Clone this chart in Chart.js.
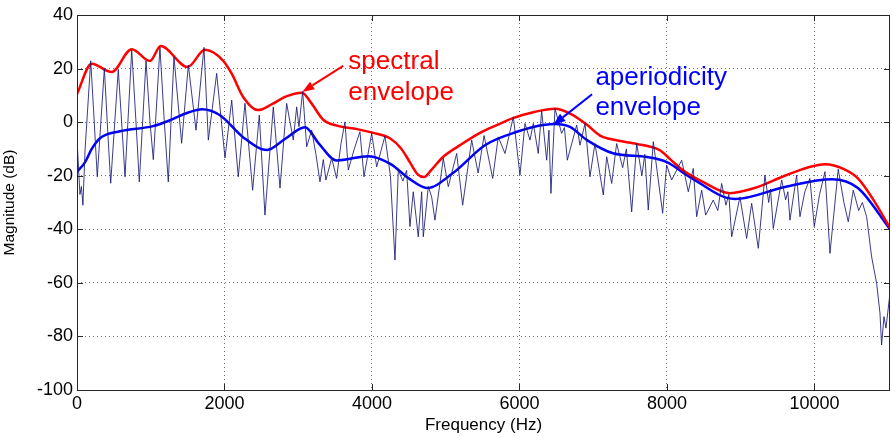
<!DOCTYPE html>
<html>
<head>
<meta charset="utf-8">
<script src="https://cdn.jsdelivr.net/npm/chart.js@4.4.1/dist/chart.umd.min.js"></script>
<style>
  html, body { margin: 0; padding: 0; background: #ffffff; }
  #wrap { width: 892px; height: 437px; }
</style>
</head>
<body>
<div id="wrap"><canvas id="c" width="892" height="437"></canvas></div>
<script>
// Harmonic magnitude spectrum (Hz, dB)
const specHz = [0, 40, 60, 80, 110, 186, 230, 275, 371, 420, 457, 560, 610, 651, 742, 800, 845, 936, 990, 1035,
  1125, 1180, 1238, 1315, 1419, 1510, 1614, 1722, 1781, 1894, 2007, 2098, 2187, 2278, 2382, 2472, 2549, 2662, 2753, 2843,
  2933, 2979, 3010, 3060, 3115, 3182, 3240, 3295, 3340, 3376, 3454, 3520, 3580, 3634, 3679, 3760, 3837, 3892, 3996, 4064,
  4176, 4250, 4312, 4357, 4420, 4470, 4515, 4560, 4628, 4674, 4696, 4764, 4810, 4854, 4967, 5035, 5149, 5230, 5352, 5440,
  5520, 5637, 5713, 5804, 5917, 6007, 6075, 6143, 6188, 6255, 6301, 6369, 6400, 6427, 6482, 6572, 6610, 6649, 6776, 6821,
  6889, 6956, 7024, 7137, 7183, 7251, 7318, 7400, 7450, 7522, 7590, 7660, 7700, 7747, 7815, 7942, 7996, 8064, 8200, 8290,
  8357, 8403, 8471, 8525, 8628, 8690, 8742, 8800, 8840, 8878, 8990, 9081, 9149, 9239, 9329, 9380, 9405, 9442, 9556, 9610,
  9640, 9668, 9759, 9804, 9870, 9939, 9998, 10070, 10143, 10211, 10323, 10400, 10459, 10527, 10600, 10650, 10708, 10776, 10844, 10889,
  10911, 10943, 10970, 11025];
const specDb = [-6.5, -27, -24, -31, -10, 22.9, 2, -20.4, 20, -5, -22.8, 19.7, -2, -20.4, 26.9, 0, -22.3, 22.9, 0, -14,
  27.9, 2, -22.3, 24.4, -7.9, 21.3, -3, 27.9, -6.7, 18.2, -13.4, 8.2, -20.4, 7, -25.4, 2.6, -34.7, 5.7, -24.6, 7,
  -6.7, 5.7, -1.7, 11.5, -9.2, -3, -12, -22.3, -14, -21.6, -13.4, -21, -8, 0.1, -17.9, -10, -3.6, -20.4, -4.2, -16.7,
  -5.2, -20, -51.5, -17.9, -22, -18, -39, -26, -42.8, -26, -42.8, -24, -28, -36.6, -13.5, -24.1, -11.7, -31, -6.7, -19,
  -5, -21, -5.5, -11.7, 2, -19.8, -0.5, -6.7, -0.5, -11.7, 4.2, -14.2, -3, -26.6, 5.1, -4.2, -2, -14.2, -1.1, -8.6,
  -0.5, -20.4, -8, -27.2, -12.9, -22.9, -8, -17, -10, -33.5, -8, -20, -12, -32.8, -7.3, -34, -16, -21.6, -14.2, -26,
  -17.3, -35.3, -25.4, -34.7, -29.1, -33, -22.9, -31, -27, -42.8, -27.9, -43.4, -30.3, -47.1, -19.8, -30, -25, -39.7, -21.6, -29,
  -26, -36.6, -19.8, -35.3, -26, -21, -39, -27, -18.5, -49, -17.6, -30, -37.2, -25.4, -33, -30, -35.3, -50.3, -60.2, -71.3,
  -83.2, -72.6, -76.9, -63.8];

// Spectral envelope (Hz, dB)
const envHz = [0, 199, 470, 742, 990, 1135, 1500, 1736, 1980, 2100, 2251, 2454, 2650, 2820, 3050, 3180, 3336, 3550, 3797, 4020,
  4244, 4400, 4515, 4620, 4705, 4800, 4963, 5200, 5465, 5700, 5912, 6200, 6482, 6700, 6916, 7092, 7300, 7539, 7750, 7905,
  8050, 8217, 8500, 8855, 9200, 9600, 9900, 10143, 10400, 10590, 10800, 11025];
const envDb = [10.5, 21.8, 18.7, 27.2, 22.8, 28.4, 20.6, 27, 23, 18, 9.5, 4.5, 6.8, 9.4, 11, 7, 1, -1.5, -2.6, -4,
  -6, -10, -15, -19.5, -20.5, -18, -13, -8.5, -4, -1, 1.5, 3.8, 5, 3, -1, -5, -6.7, -7.9, -9, -10.5,
  -14, -18, -22.5, -26.5, -24.5, -20, -17, -15.7, -17.5, -21, -29, -39.5];

// Aperiodicity envelope (Hz, dB)
const aperHz = [0, 108, 200, 312, 583, 1031, 1261, 1500, 1695, 1939, 2251, 2576, 2820, 3092, 3280, 3520, 3950, 4244, 4500, 4746,
  5099, 5532, 5912, 6482, 6685, 6916, 7268, 7729, 8000, 8312, 8922, 9600, 10238, 10590, 11025];
const aperDb = [-18.5, -15, -10, -6, -3.4, -1.5, 0.7, 3.5, 4.8, 2.6, -5.6, -10.4, -6.3, -1.9, -8, -14.3, -12.7, -15.5, -21, -24.6,
  -19, -8.6, -4.1, -0.7, -1.8, -6.7, -11.6, -13, -14.9, -20.5, -28.7, -24.2, -21.3, -24.6, -40];

// Axis ticks
const xTicks = [0, 2000, 4000, 6000, 8000, 10000];
const yTicks = [-100, -80, -60, -40, -20, 0, 20, 40];

// Callouts: text anchor and arrow in data units
const callouts = [
  { lines: ['spectral', 'envelope'], color: '#ff0000', textHz: 3680, textDb: 19.8, gapDb: 11.6,
    tailHz: 3610, tailDb: 21, tipHz: 3055, tipDb: 11.3 },
  { lines: ['aperiodicity', 'envelope'], color: '#0000ff', textHz: 7030, textDb: 13.8, gapDb: 11.2,
    tailHz: 6985, tailDb: 10.4, tipHz: 6460, tipDb: -1.0 }
];

const FONT = "'Liberation Sans', Arial, Helvetica, sans-serif";

const toXY = (xs, ys) => xs.map((x, i) => ({ x: x, y: ys[i] }));

const framePlugin = {
  id: 'frame',
  afterDraw(chart) {
    const ctx = chart.ctx;
    const a = chart.chartArea;
    const sx = chart.scales.x, sy = chart.scales.y;
    ctx.save();
    // axes box
    ctx.strokeStyle = '#262626';
    ctx.lineWidth = 1;
    ctx.setLineDash([]);
    ctx.strokeRect(Math.round(a.left) + 0.5, Math.round(a.top) + 0.5,
                   Math.round(a.right - a.left) - 1, Math.round(a.bottom - a.top));
    // inward ticks on all four sides
    const tl = 6;
    ctx.beginPath();
    xTicks.forEach(v => {
      const px = Math.round(sx.getPixelForValue(v)) + 0.5;
      ctx.moveTo(px, a.bottom); ctx.lineTo(px, a.bottom - tl);
      ctx.moveTo(px, a.top); ctx.lineTo(px, a.top + tl);
    });
    yTicks.forEach(v => {
      const py = Math.round(sy.getPixelForValue(v)) + 0.5;
      ctx.moveTo(a.left, py); ctx.lineTo(a.left + tl, py);
      ctx.moveTo(a.right, py); ctx.lineTo(a.right - tl, py);
    });
    ctx.stroke();

    // callout texts and arrows
    callouts.forEach(c => {
      ctx.fillStyle = c.color;
      ctx.strokeStyle = c.color;
      ctx.font = '26px ' + FONT;
      ctx.textBaseline = 'alphabetic';
      ctx.textAlign = 'left';
      c.lines.forEach((t, i) => {
        ctx.fillText(t, sx.getPixelForValue(c.textHz), sy.getPixelForValue(c.textDb - i * c.gapDb));
      });
      const x0 = sx.getPixelForValue(c.tailHz), y0 = sy.getPixelForValue(c.tailDb);
      const x1 = sx.getPixelForValue(c.tipHz), y1 = sy.getPixelForValue(c.tipDb);
      const ang = Math.atan2(y1 - y0, x1 - x0);
      const hl = 12, hw = 4.5;
      const bx = x1 - hl * Math.cos(ang), by = y1 - hl * Math.sin(ang);
      ctx.lineWidth = 2;
      ctx.beginPath();
      ctx.moveTo(x0, y0); ctx.lineTo(bx, by);
      ctx.stroke();
      ctx.beginPath();
      ctx.moveTo(x1, y1);
      ctx.lineTo(bx + hw * Math.sin(ang), by - hw * Math.cos(ang));
      ctx.lineTo(bx - hw * Math.sin(ang), by + hw * Math.cos(ang));
      ctx.closePath();
      ctx.fill();
    });
    ctx.restore();
  }
};

new Chart(document.getElementById('c'), {
  type: 'line',
  data: {
    datasets: [
      { label: 'spectrum', data: toXY(specHz, specDb), borderColor: 'rgba(25,25,120,0.85)', borderWidth: 1,
        pointRadius: 0, tension: 0, fill: false },
      { label: 'spectral envelope', data: toXY(envHz, envDb), borderColor: '#ff0000', borderWidth: 2.5,
        pointRadius: 0, cubicInterpolationMode: 'monotone', fill: false },
      { label: 'aperiodicity envelope', data: toXY(aperHz, aperDb), borderColor: '#0000ff', borderWidth: 2.5,
        pointRadius: 0, cubicInterpolationMode: 'monotone', fill: false }
    ]
  },
  options: {
    responsive: false,
    animation: false,
    devicePixelRatio: 1,
    layout: { padding: { top: 15, right: 2, left: 0, bottom: 0 } },
    plugins: { legend: { display: false }, tooltip: { enabled: false }, title: { display: false } },
    scales: {
      x: {
        type: 'linear', min: 0, max: 11025,
        afterBuildTicks: s => { s.ticks = xTicks.map(v => ({ value: v })); },
        afterFit: s => { s.height = 47; },
        ticks: { font: { family: FONT, size: 18 }, color: '#000', padding: 3, maxRotation: 0, autoSkip: false,
                 callback: v => String(v) },
        grid: { color: 'rgba(0,0,0,0.55)', lineWidth: 1, drawTicks: false },
        border: { display: false, dash: [1, 3] },
        title: { display: true, text: 'Frequency (Hz)', font: { family: FONT, size: 17 }, color: '#000',
                 padding: { top: 0, bottom: 1 } }
      },
      y: {
        type: 'linear', min: -100, max: 40,
        afterBuildTicks: s => { s.ticks = yTicks.map(v => ({ value: v })); },
        afterFit: s => { s.width = 77; },
        ticks: { font: { family: FONT, size: 18 }, color: '#000', padding: 4, autoSkip: false,
                 callback: v => String(v) },
        grid: { color: 'rgba(0,0,0,0.55)', lineWidth: 1, drawTicks: false },
        border: { display: false, dash: [1, 3] },
        title: { display: true, text: 'Magnitude (dB)', font: { family: FONT, size: 15.5 }, color: '#000',
                 padding: { top: 0, bottom: 3 } }
      }
    }
  },
  plugins: [framePlugin]
});
</script>
</body>
</html>
